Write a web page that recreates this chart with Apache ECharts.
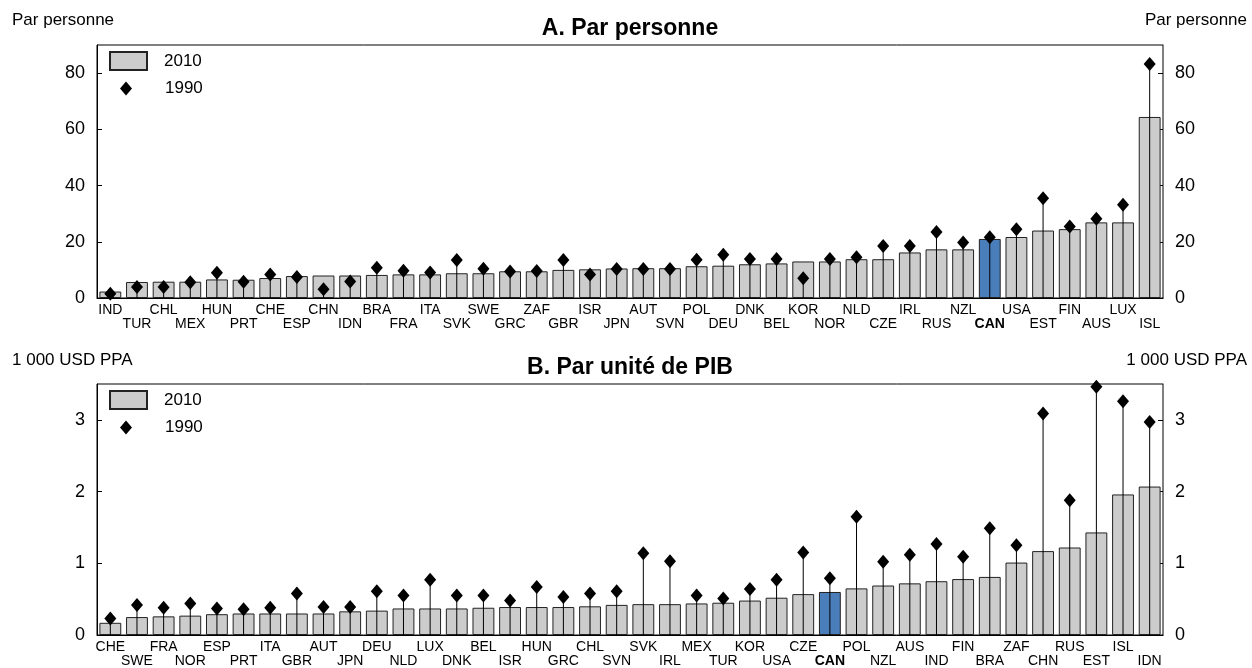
<!DOCTYPE html>
<html>
<head>
<meta charset="utf-8">
<script src="https://cdn.jsdelivr.net/npm/echarts@6/dist/echarts.min.js"></script>
<style>
  html, body { margin: 0; padding: 0; background: #fff; }
  #chart { width: 1252px; height: 668px; }
</style>
</head>
<body>
<div id="chart"></div>
<script>
// Panel A: par personne
const catsA = ['IND', 'TUR', 'CHL', 'MEX', 'HUN', 'PRT', 'CHE', 'ESP', 'CHN', 'IDN',
  'BRA', 'FRA', 'ITA', 'SVK', 'SWE', 'GRC', 'ZAF', 'GBR', 'ISR', 'JPN',
  'AUT', 'SVN', 'POL', 'DEU', 'DNK', 'BEL', 'KOR', 'NOR', 'NLD', 'CZE',
  'IRL', 'RUS', 'NZL', 'CAN', 'USA', 'EST', 'FIN', 'AUS', 'LUX', 'ISL']
const a2010 = [2.3, 5.7, 5.8, 5.8, 6.6, 6.5, 7.1, 7.8, 8.0, 8.0,
  8.2, 8.4, 8.4, 8.8, 8.8, 9.5, 9.5, 10.0, 10.2, 10.5,
  10.6, 10.6, 11.3, 11.5, 12.0, 12.3, 13.0, 13.0, 13.8, 13.8,
  16.2, 17.3, 17.3, 21.0, 21.7, 24.0, 24.5, 26.9, 26.9, 64.4]
const a1990 = [1.5, 3.9, 3.9, 5.6, 9.0, 5.8, 8.4, 7.5, 3.1, 5.9,
  10.8, 9.7, 9.1, 13.5, 10.4, 9.4, 9.6, 13.5, 8.4, 10.3,
  10.3, 10.3, 13.6, 15.4, 13.9, 13.9, 7.0, 13.9, 14.5, 18.5,
  18.5, 23.5, 19.7, 21.6, 24.5, 35.5, 25.4, 28.2, 33.2, 83.2]

// Panel B: par unité de PIB
const catsB = ['CHE', 'SWE', 'FRA', 'NOR', 'ESP', 'PRT', 'ITA', 'GBR', 'AUT', 'JPN',
  'DEU', 'NLD', 'LUX', 'DNK', 'BEL', 'ISR', 'HUN', 'GRC', 'CHL', 'SVN',
  'SVK', 'IRL', 'MEX', 'TUR', 'KOR', 'USA', 'CZE', 'CAN', 'POL', 'NZL',
  'AUS', 'IND', 'FIN', 'BRA', 'ZAF', 'CHN', 'RUS', 'EST', 'ISL', 'IDN']
const b2010 = [0.17, 0.25, 0.26, 0.27, 0.29, 0.30, 0.30, 0.30, 0.30, 0.33,
  0.34, 0.37, 0.37, 0.37, 0.38, 0.39, 0.39, 0.39, 0.40, 0.42,
  0.43, 0.43, 0.44, 0.45, 0.48, 0.52, 0.57, 0.60, 0.65, 0.69,
  0.72, 0.75, 0.78, 0.81, 1.01, 1.17, 1.22, 1.43, 1.96, 2.07]
const b1990 = [0.23, 0.42, 0.38, 0.44, 0.37, 0.36, 0.38, 0.58, 0.39, 0.39,
  0.61, 0.55, 0.77, 0.55, 0.55, 0.48, 0.67, 0.53, 0.58, 0.61,
  1.14, 1.03, 0.55, 0.51, 0.64, 0.77, 1.15, 0.79, 1.65, 1.02,
  1.12, 1.27, 1.09, 1.49, 1.25, 3.09, 1.88, 3.46, 3.26, 2.97]

const HIGHLIGHT = 'CAN'
const FONT = '"Liberation Sans", Arial, sans-serif'
const GREY = '#cccccc'
const BLUE = '#4a7ebb'

const chart = echarts.init(document.getElementById('chart'))

function barData(cats, vals) {
  return vals.map((v, i) => cats[i] === HIGHLIGHT
    ? { value: v, itemStyle: { color: BLUE } }
    : v)
}

// thin stem from the baseline up to the 1990 marker
function stemItem(params, api) {
  const p0 = api.coord([api.value(0), 0])
  const p1 = api.coord([api.value(0), api.value(1)])
  return {
    type: 'line',
    shape: { x1: p0[0], y1: p0[1], x2: p1[0], y2: p1[1] },
    style: { stroke: '#000', lineWidth: 1 },
  }
}

function xAxisFor(cats, gridIndex) {
  return {
    type: 'category',
    gridIndex,
    data: cats,
    axisTick: { show: false },
    axisLine: { lineStyle: { color: '#000', width: 1 } },
    axisLabel: {
      interval: 0,
      margin: 5,
      fontFamily: FONT,
      fontSize: 14,
      color: '#000',
      lineHeight: 14,
      formatter: (val, idx) => {
        const tag = val === HIGHLIGHT ? 'b' : 'n'
        return (idx % 2 ? '\n' : '') + '{' + tag + '|' + val + '}'
      },
      rich: {
        n: { fontFamily: FONT, fontSize: 14, color: '#000', lineHeight: 14 },
        b: { fontFamily: FONT, fontSize: 14, color: '#000', lineHeight: 14, fontWeight: 'bold' },
      },
    },
  }
}

function yAxisFor(gridIndex, max, position) {
  return {
    type: 'value',
    gridIndex,
    position,
    min: 0,
    max,
    interval: max > 10 ? 20 : 1,
    splitLine: { show: false },
    axisLine: { show: true, lineStyle: { color: position === 'left' ? '#000' : '#808080' } },
    axisTick: { show: true, inside: true, length: 5, lineStyle: { color: '#000' } },
    axisLabel: { showMaxLabel: false, margin: 12, fontFamily: FONT, fontSize: 18, color: '#000' },
  }
}

function seriesFor(cats, v2010, v1990, xIdx, yIdx) {
  return [
    {
      name: '2010',
      type: 'bar',
      xAxisIndex: xIdx,
      yAxisIndex: yIdx,
      barCategoryGap: '18%',
      itemStyle: { color: GREY, borderColor: '#222', borderWidth: 1 },
      data: barData(cats, v2010),
      z: 2,
    },
    {
      name: 'stem',
      type: 'custom',
      xAxisIndex: xIdx,
      yAxisIndex: yIdx,
      renderItem: stemItem,
      data: v1990.map((v, i) => [i, v]),
      z: 3,
    },
    {
      name: '1990',
      type: 'scatter',
      xAxisIndex: xIdx,
      yAxisIndex: yIdx,
      symbol: 'diamond',
      symbolSize: [12, 14],
      itemStyle: { color: '#000', opacity: 1 },
      data: v1990,
      z: 4,
    },
  ]
}

function legendsFor(top) {
  return [
    {
      data: [{ name: '2010', icon: 'rect' }],
      left: 109, top: top, padding: 0,
      itemWidth: 37, itemHeight: 18,
      textStyle: { fontFamily: FONT, fontSize: 17, color: '#000', padding: [0, 0, 0, 12] },
      selectedMode: false,
    },
    {
      data: ['1990'],
      left: 120, top: top + 29, padding: 0,
      itemWidth: 12, itemHeight: 14,
      symbolKeepAspect: false,
      textStyle: { fontFamily: FONT, fontSize: 17, color: '#000', padding: [0, 0, 0, 28] },
      selectedMode: false,
    },
  ]
}

const small = { fontFamily: FONT, fontSize: 17, fontWeight: 'normal', color: '#000' }
const big = { fontFamily: FONT, fontSize: 23, fontWeight: 'bold', color: '#000' }

chart.setOption({
  animation: false,
  title: [
    { text: 'A. Par personne', left: 630, textAlign: 'center', top: 17, textStyle: big, padding: 0 },
    { text: 'Par personne', left: 12, top: 12, textStyle: small, padding: 0 },
    { text: 'Par personne', right: 5, top: 12, textStyle: small, padding: 0 },
    { text: 'B. Par unité de PIB', left: 630, textAlign: 'center', top: 356, textStyle: big, padding: 0 },
    { text: '1 000 USD PPA', left: 12, top: 352, textStyle: small, padding: 0 },
    { text: '1 000 USD PPA', right: 5, top: 352, textStyle: small, padding: 0 },
  ],
  legend: [...legendsFor(51), ...legendsFor(390)],
  grid: [
    { left: 97, width: 1066, top: 45, height: 253, show: true, borderColor: '#000', borderWidth: 1 },
    { left: 97, width: 1066, top: 384, height: 252, show: true, borderColor: '#000', borderWidth: 1 },
  ],
  xAxis: [xAxisFor(catsA, 0), xAxisFor(catsB, 1)],
  yAxis: [
    yAxisFor(0, 90, 'left'),
    yAxisFor(0, 90, 'right'),
    yAxisFor(1, 3.5, 'left'),
    yAxisFor(1, 3.5, 'right'),
  ],
  series: [
    ...seriesFor(catsA, a2010, a1990, 0, 0),
    ...seriesFor(catsB, b2010, b1990, 1, 2),
  ],
})
</script>
</body>
</html>
